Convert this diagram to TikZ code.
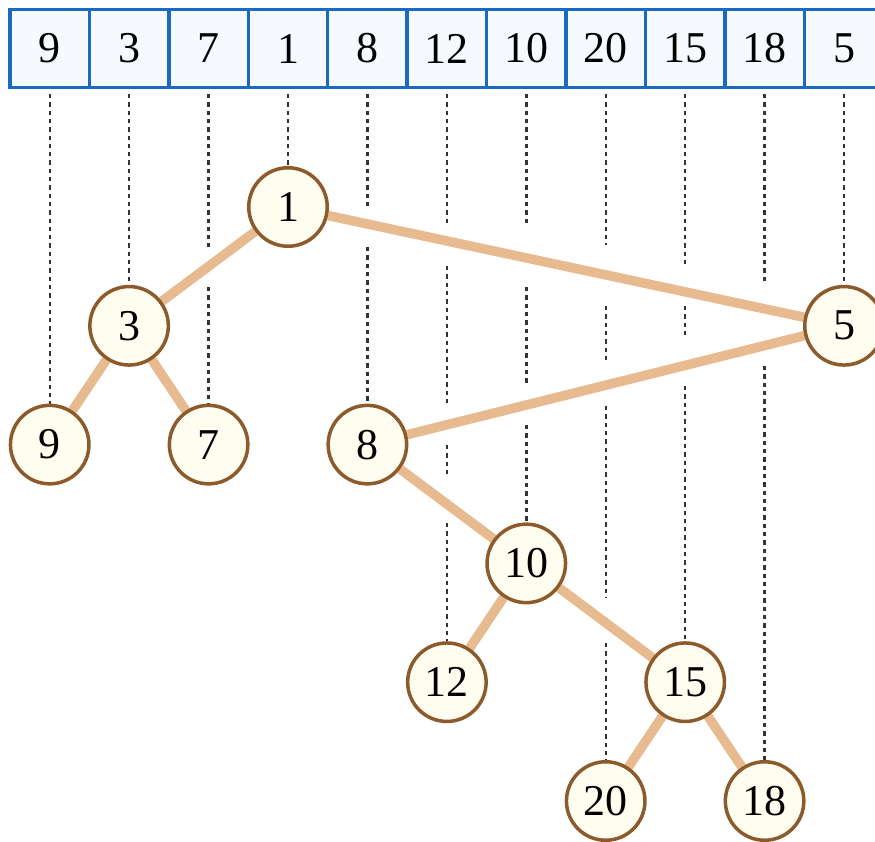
\documentclass[tikz,border=0pt]{standalone}
\usepackage{fontspec}
\setmainfont{Liberation Serif}
\usetikzlibrary{backgrounds}
\definecolor{arrblue}{HTML}{1A6BC0}
\definecolor{arrfill}{HTML}{F6FAFF}
\definecolor{nodebrown}{HTML}{8C5A2B}
\definecolor{nodefill}{HTML}{FFFDF0}
\definecolor{edgetan}{HTML}{E7BA8F}
\definecolor{guidegray}{HTML}{333333}
\begin{document}
\begin{tikzpicture}[x=1pt,y=-1pt,
  cell/.style={draw=arrblue, fill=arrfill, line width=3.5pt, minimum width=79.43pt,
    minimum height=78pt, inner sep=0pt, outer sep=0pt, font=\fontsize{44}{44}\selectfont},
  tnode/.style={circle, draw=nodebrown, fill=nodefill, line width=3.5pt, minimum size=78.5pt,
    inner sep=0pt, font=\fontsize{44}{44}\selectfont},
  edge/.style={draw=edgetan, line width=9.5pt},
  guide/.style={draw=guidegray, line width=2.4pt, dash pattern=on 4.3pt off 4pt}]
\useasboundingbox (0,0) rectangle (875,841);
% array
\node[cell] (c1) at (49.7,48.5) {9};
\node[cell] (c2) at (129.1,48.5) {3};
\node[cell] (c3) at (208.6,48.5) {7};
\node[cell] (c4) at (288.0,48.5) {1};
\node[cell] (c5) at (367.4,48.5) {8};
\node[cell] (c6) at (446.9,48.5) {12};
\node[cell] (c7) at (526.3,48.5) {10};
\node[cell] (c8) at (605.7,48.5) {20};
\node[cell] (c9) at (685.2,48.5) {15};
\node[cell] (c10) at (764.6,48.5) {18};
\node[cell] (c11) at (844.0,48.5) {5};
% tree
\node[tnode] (n1) at (c4 |- 0,207) {1};
\node[tnode] (n3) at (c2 |- 0,325.8) {3};
\node[tnode] (n5) at (c11 |- 0,325.8) {5};
\node[tnode] (n9) at (c1 |- 0,444.6) {9};
\node[tnode] (n7) at (c3 |- 0,444.6) {7};
\node[tnode] (n8) at (c5 |- 0,444.6) {8};
\node[tnode] (n10) at (c7 |- 0,563.4) {10};
\node[tnode] (n12) at (c6 |- 0,682.2) {12};
\node[tnode] (n15) at (c9 |- 0,682.2) {15};
\node[tnode] (n20) at (c8 |- 0,801) {20};
\node[tnode] (n18) at (c10 |- 0,801) {18};
\begin{scope}[on background layer]
% guides
\draw[guide] (c1 |- 0,94) -- (n9.north);
\draw[guide] (c2 |- 0,94) -- (n3.north);
\draw[guide] (c3 |- 0,94) -- (c3 |- 0,247);
\draw[guide] (c3 |- 0,287) -- (n7.north);
\draw[guide] (c4 |- 0,94) -- (n1.north);
\draw[guide] (c5 |- 0,94) -- (c5 |- 0,206);
\draw[guide] (c5 |- 0,247) -- (n8.north);
\draw[guide] (c6 |- 0,94) -- (c6 |- 0,226);
\draw[guide] (c6 |- 0,266) -- (c6 |- 0,405);
\draw[guide] (c6 |- 0,445) -- (c6 |- 0,477);
\draw[guide] (c6 |- 0,523) -- (n12.north);
\draw[guide] (c7 |- 0,94) -- (c7 |- 0,226);
\draw[guide] (c7 |- 0,287) -- (c7 |- 0,385);
\draw[guide] (c7 |- 0,425) -- (n10.north);
\draw[guide] (c8 |- 0,94) -- (c8 |- 0,245);
\draw[guide] (c8 |- 0,306) -- (c8 |- 0,363);
\draw[guide] (c8 |- 0,406) -- (c8 |- 0,597);
\draw[guide] (c8 |- 0,643) -- (n20.north);
\draw[guide] (c9 |- 0,94) -- (c9 |- 0,265);
\draw[guide] (c9 |- 0,306) -- (c9 |- 0,337);
\draw[guide] (c9 |- 0,386) -- (n15.north);
\draw[guide] (c10 |- 0,94) -- (c10 |- 0,284);
\draw[guide] (c10 |- 0,366) -- (n18.north);
\draw[guide] (c11 |- 0,94) -- (n5.north);
% edges
\draw[edge] (n1) -- (n3);
\draw[edge] (n1) -- (n5);
\draw[edge] (n3) -- (n9);
\draw[edge] (n3) -- (n7);
\draw[edge] (n5) -- (n8);
\draw[edge] (n8) -- (n10);
\draw[edge] (n10) -- (n12);
\draw[edge] (n10) -- (n15);
\draw[edge] (n15) -- (n20);
\draw[edge] (n15) -- (n18);
\end{scope}
\end{tikzpicture}
\end{document}
